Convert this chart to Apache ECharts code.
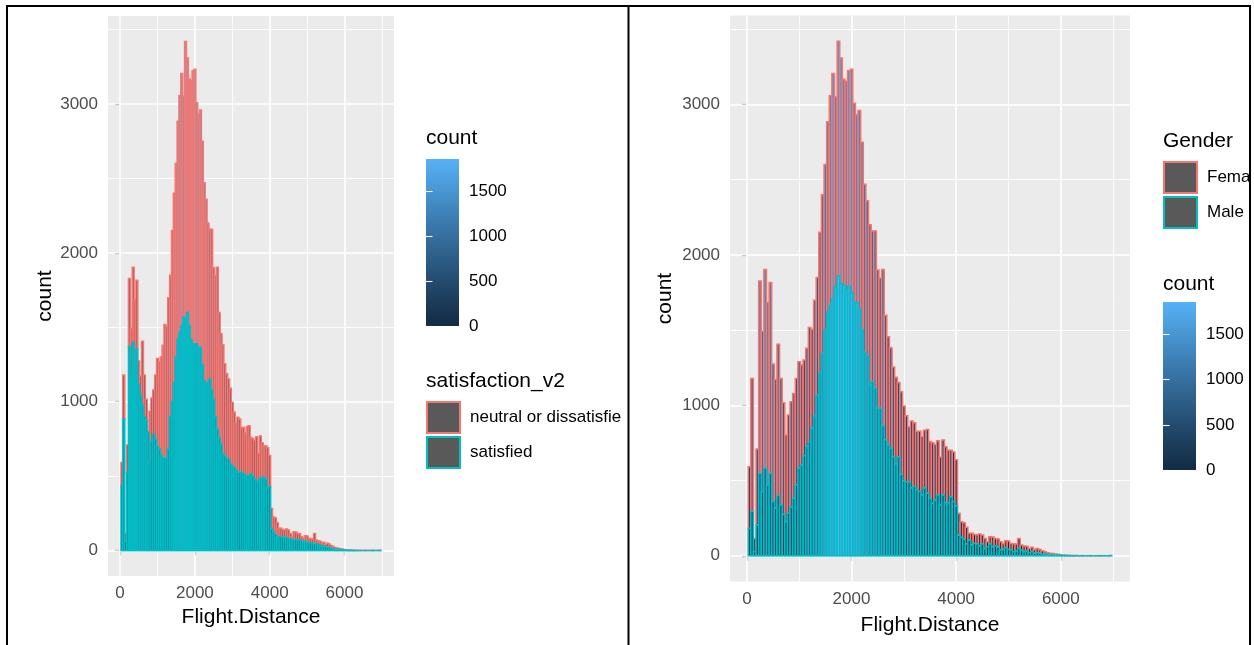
<!DOCTYPE html>
<html>
<head>
<meta charset="utf-8">
<script src="https://cdn.jsdelivr.net/npm/echarts@6/dist/echarts.min.js"></script>
<style>
  html, body { margin: 0; padding: 0; background: #ffffff; }
  #chart { width: 1254px; height: 645px; }
</style>
</head>
<body>
<div id="chart"></div>
<script>
// Flight.Distance histogram: bins 50 wide, centred on 50, 100, ..., 6950
const binStart = 25;
const binWidth = 50;

// all passengers per bin
const totalCounts = [
  591, 1179, 115, 709, 1827, 1493, 1903, 1684, 1816, 1274,
  1172, 1406, 1179, 1017, 802, 935, 1024, 1079, 1179, 1290,
  1268, 1301, 1379, 1518, 1505, 1699, 1850, 2150, 2400, 2600,
  2884, 3057, 3205, 3050, 3420, 3309, 3167, 3154, 3223, 3234,
  3008, 2932, 2960, 2749, 2470, 2360, 2200, 2159, 2159, 1900,
  1846, 1903, 1599, 1456, 1383, 1255, 1187, 1152, 1090, 995,
  930, 857, 896, 884, 827, 827, 793, 834, 839, 759,
  752, 740, 765, 656, 770, 724, 702, 702, 690, 639,
  282, 226, 220, 189, 149, 149, 142, 140, 145, 138,
  115, 93, 127, 125, 115, 112, 93, 82, 100, 98,
  82, 80, 78, 115, 71, 65, 63, 49, 56, 42,
  49, 42, 33, 27, 20, 16, 15, 11, 10, 6,
  4, 3, 2, 2, 1, 1, 0, 1, 0, 0,
  1, 0, 0, 0, 1, 0, 0, 0, 1
];

// satisfaction_v2 == "satisfied" per bin
const satisfiedCounts = [
  437, 884, 60, 526, 1370, 1150, 1399, 1250, 1354, 1119,
  1041, 980, 900, 877, 794, 605, 739, 783, 750, 700,
  683, 640, 627, 622, 622, 683, 900, 1000, 1130, 1300,
  1421, 1470, 1511, 1567, 1560, 1600, 1511, 1420, 1388, 1388,
  1388, 1366, 1366, 1250, 1142, 1119, 1130, 1153, 1080, 1018,
  900, 817, 760, 716, 650, 638, 620, 615, 582, 570,
  560, 540, 526, 526, 526, 520, 504, 504, 504, 515,
  500, 481, 470, 459, 480, 493, 493, 480, 425, 430,
  146, 124, 110, 90, 92, 94, 90, 88, 90, 80,
  78, 76, 74, 72, 70, 72, 66, 63, 62, 56,
  54, 50, 45, 47, 44, 40, 38, 30, 28, 27,
  22, 20, 14, 12, 10, 8, 7, 5, 4, 3,
  2, 1, 1, 1, 0, 1, 0, 1, 0, 0,
  0, 0, 0, 0, 1, 0, 0, 0, 1
];

// Gender == "Male" per bin
const maleCounts = [
  182, 294, 27, 204, 547, 426, 581, 470, 547, 360,
  316, 400, 338, 275, 226, 282, 325, 381, 470, 581,
  603, 664, 726, 758, 847, 931, 1068, 1216, 1345, 1500,
  1620, 1665, 1710, 1790, 1860, 1810, 1799, 1766, 1792, 1750,
  1689, 1681, 1640, 1502, 1353, 1331, 1136, 1159, 1114, 981,
  981, 862, 770, 736, 713, 656, 610, 656, 541, 496,
  491, 491, 450, 461, 439, 427, 404, 450, 415, 381,
  347, 370, 404, 335, 404, 353, 353, 393, 359, 330,
  137, 122, 108, 78, 104, 71, 82, 78, 65, 78,
  49, 60, 78, 60, 67, 56, 38, 42, 53, 42,
  38, 27, 31, 49, 38, 27, 31, 20, 27, 16,
  20, 16, 11, 11, 8, 8, 6, 5, 4, 3,
  2, 1, 1, 1, 0, 1, 0, 0, 0, 0,
  0, 0, 0, 0, 0, 0, 0, 0, 1
];

const satisfactionLevels = ['neutral or dissatisfied', 'satisfied'];
const genderLevels = ['Female', 'Male'];

const xTicks = [0, 2000, 4000, 6000];
const xMinor = [1000, 3000, 5000, 7000];
const yTicks = [0, 1000, 2000, 3000];
const yMinor = [500, 1500, 2500, 3500];
const colorbarTicks = [0, 500, 1000, 1500];

// ---- ggplot-like scales -------------------------------------------------
const groupColors = ['#F8766D', '#00BFC4'];
const keyFill = '#595959';
const panelGrey = '#EBEBEB';
const FONT = '"Liberation Sans", Arial, sans-serif';
const plainNumber = v => String(Math.round(v));

// continuous fill: #132B43 -> #56B1F7, interpolated in CIE Lab
function hexToRgb(h) {
  return [parseInt(h.slice(1, 3), 16), parseInt(h.slice(3, 5), 16), parseInt(h.slice(5, 7), 16)];
}
function toLinear(c) { c /= 255; return c <= 0.04045 ? c / 12.92 : Math.pow((c + 0.055) / 1.055, 2.4); }
function fromLinear(c) {
  c = c <= 0.0031308 ? 12.92 * c : 1.055 * Math.pow(c, 1 / 2.4) - 0.055;
  return Math.round(Math.max(0, Math.min(1, c)) * 255);
}
function rgbToLab(rgb) {
  const [r, g, b] = rgb.map(toLinear);
  const x = (0.4124 * r + 0.3576 * g + 0.1805 * b) / 0.95047;
  const y = 0.2126 * r + 0.7152 * g + 0.0722 * b;
  const z = (0.0193 * r + 0.1192 * g + 0.9505 * b) / 1.08883;
  const f = t => (t > 0.008856 ? Math.cbrt(t) : 7.787 * t + 16 / 116);
  const fx = f(x), fy = f(y), fz = f(z);
  return [116 * fy - 16, 500 * (fx - fy), 200 * (fy - fz)];
}
function labToRgb(lab) {
  const fy = (lab[0] + 16) / 116, fx = fy + lab[1] / 500, fz = fy - lab[2] / 200;
  const inv = t => (t * t * t > 0.008856 ? t * t * t : (t - 16 / 116) / 7.787);
  const x = inv(fx) * 0.95047, y = inv(fy), z = inv(fz) * 1.08883;
  const r = 3.2406 * x - 1.5372 * y - 0.4986 * z;
  const g = -0.9689 * x + 1.8758 * y + 0.0415 * z;
  const b = 0.0557 * x - 0.2040 * y + 1.0570 * z;
  return [fromLinear(r), fromLinear(g), fromLinear(b)];
}
const lowLab = rgbToLab(hexToRgb('#132B43'));
const highLab = rgbToLab(hexToRgb('#56B1F7'));
function fillColor(t) {
  t = Math.max(0, Math.min(1, t));
  const c = labToRgb(lowLab.map((v, i) => v + (highLab[i] - v) * t));
  return 'rgb(' + c.join(',') + ')';
}
function gradientStops() {
  const stops = [];
  for (let i = 0; i <= 24; i++) {
    const t = i / 24;
    stops.push({ offset: t, color: fillColor(1 - t) });
  }
  return stops;
}

// ---- stacked histogram segments ----------------------------------------
// each item: [binLeft, binRight, base, top, segmentCount]
function lowerSegments(lower) {
  return lower.map((c, k) => {
    const x0 = binStart + binWidth * k;
    return [x0, x0 + binWidth, 0, c, c];
  });
}
function upperSegments(lower) {
  return totalCounts.map((t, k) => {
    const x0 = binStart + binWidth * k;
    return [x0, x0 + binWidth, lower[k], t, t - lower[k]];
  });
}

const leftUpper = upperSegments(satisfiedCounts);
const leftLower = lowerSegments(satisfiedCounts);
const rightUpper = upperSegments(maleCounts);
const rightLower = lowerSegments(maleCounts);

const leftFillMax = Math.max(...leftUpper.map(d => d[4]), ...leftLower.map(d => d[4]));
const rightFillMax = Math.max(...rightUpper.map(d => d[4]), ...rightLower.map(d => d[4]));

// ggplot default 5% expansion on both axes
const xLo = binStart, xHi = binStart + binWidth * totalCounts.length;
const xMin = xLo - 0.05 * (xHi - xLo), xMax = xHi + 0.05 * (xHi - xLo);
const yPeak = Math.max(...totalCounts);
const yMin = -0.05 * yPeak, yMax = 1.05 * yPeak;

function histRenderer(fillMax, stroke) {
  return function (params, api) {
    const p0 = api.coord([api.value(0), api.value(3)]);
    const p1 = api.coord([api.value(1), api.value(2)]);
    return {
      type: 'rect',
      shape: { x: p0[0], y: p0[1], width: p1[0] - p0[0], height: p1[1] - p0[1] },
      style: { fill: fillColor(api.value(4) / fillMax), stroke: stroke, lineWidth: 1.5 }
    };
  };
}

function histSeries(name, data, gridIdx, fillMax, stroke) {
  return {
    type: 'custom',
    name: name,
    xAxisIndex: gridIdx,
    yAxisIndex: gridIdx,
    data: data,
    encode: { x: [0, 1], y: [2, 3] },
    renderItem: histRenderer(fillMax, stroke),
    silent: true,
    z: 3
  };
}

// panel grid (major + minor), kept underneath the bars
function gridLineSeries(gridIdx) {
  const major = { color: '#ffffff', width: 1.6, type: 'solid' };
  const minor = { color: '#ffffff', width: 0.9, type: 'solid' };
  const items = [];
  xMinor.forEach(v => items.push({ xAxis: v, lineStyle: minor }));
  yMinor.forEach(v => items.push({ yAxis: v, lineStyle: minor }));
  xTicks.forEach(v => items.push({ xAxis: v, lineStyle: major }));
  yTicks.forEach(v => items.push({ yAxis: v, lineStyle: major }));
  return {
    type: 'line',
    xAxisIndex: gridIdx,
    yAxisIndex: gridIdx,
    data: [],
    z: 1,
    silent: true,
    markLine: {
      z: 1,
      silent: true,
      symbol: ['none', 'none'],
      label: { show: false },
      emphasis: { disabled: true },
      animation: false,
      data: items
    }
  };
}

function colorbarSeries(gridIdx, fillMax) {
  return {
    type: 'custom',
    xAxisIndex: gridIdx,
    yAxisIndex: gridIdx,
    data: [[0, 1, 0, fillMax]],
    silent: true,
    z: 2,
    renderItem: function (params, api) {
      const p0 = api.coord([api.value(0), api.value(3)]);
      const p1 = api.coord([api.value(1), api.value(2)]);
      return {
        type: 'rect',
        shape: { x: p0[0], y: p0[1], width: p1[0] - p0[0], height: p1[1] - p0[1] },
        style: { fill: new echarts.graphic.LinearGradient(0, 0, 0, 1, gradientStops()) }
      };
    }
  };
}

function mainXAxis(gridIdx, nameGap) {
  return {
    gridIndex: gridIdx, type: 'value', min: xMin, max: xMax,
    axisLine: { show: false },
    axisTick: { show: true, customValues: xTicks, length: 5, lineStyle: { color: '#333333', width: 1.1 } },
    axisLabel: { customValues: xTicks, formatter: plainNumber, color: '#4D4D4D', fontSize: 17, fontFamily: FONT, margin: 9 },
    splitLine: { show: false },
    name: 'Flight.Distance', nameLocation: 'middle', nameGap: nameGap,
    nameTextStyle: { fontSize: 21, color: '#000000', fontFamily: FONT }
  };
}
function mainYAxis(gridIdx, nameGap) {
  return {
    gridIndex: gridIdx, type: 'value', min: yMin, max: yMax,
    axisLine: { show: false },
    axisTick: { show: true, customValues: yTicks, length: 5, lineStyle: { color: '#333333', width: 1.1 } },
    axisLabel: { customValues: yTicks, formatter: plainNumber, color: '#4D4D4D', fontSize: 17, fontFamily: FONT, margin: 10 },
    splitLine: { show: false },
    name: 'count', nameLocation: 'middle', nameGap: nameGap, nameRotate: 90,
    nameTextStyle: { fontSize: 21, color: '#000000', fontFamily: FONT }
  };
}
function colorbarX(gridIdx) {
  return { gridIndex: gridIdx, type: 'value', min: 0, max: 1, show: false };
}
function colorbarY(gridIdx, fillMax, side, withLabels) {
  return {
    gridIndex: gridIdx, type: 'value', min: 0, max: fillMax, position: side, z: 10,
    axisLine: { show: false },
    axisTick: { show: true, inside: true, customValues: colorbarTicks, length: 6.5,
                lineStyle: { color: '#ffffff', width: 1.1 } },
    axisLabel: withLabels
      ? { customValues: colorbarTicks, formatter: plainNumber, color: '#000000', fontSize: 17, fontFamily: FONT, margin: 10 }
      : { show: false },
    splitLine: { show: false }
  };
}

function legendTitle(text, left, top) {
  return {
    text: text, left: left, top: top, padding: 0,
    textStyle: { fontSize: 21, fontWeight: 'normal', color: '#000000', fontFamily: FONT }
  };
}
function groupLegend(names, left, top, textWidth) {
  return {
    orient: 'vertical', left: left, top: top, padding: 0,
    itemWidth: 33, itemHeight: 31, itemGap: 2, icon: 'rect',
    selectedMode: false,
    data: names.map((n, i) => ({
      name: n,
      itemStyle: { color: keyFill, borderColor: groupColors[i], borderWidth: 2 }
    })),
    textStyle: {
      fontSize: 17, color: '#000000', fontFamily: FONT, padding: [0, 0, 0, 5],
      width: textWidth, overflow: 'truncate', ellipsis: ''
    }
  };
}

const chart = echarts.init(document.getElementById('chart'), null, { renderer: 'canvas' });
chart.setOption({
  animation: false,
  backgroundColor: '#ffffff',
  textStyle: { fontFamily: FONT },
  grid: [
    { left: 108, top: 16, width: 286, height: 560, show: true, backgroundColor: panelGrey, borderWidth: 0 },
    { left: 730, top: 15.5, width: 400, height: 566, show: true, backgroundColor: panelGrey, borderWidth: 0 },
    { left: 426, top: 159, width: 33, height: 167 },
    { left: 1163, top: 302, width: 33, height: 168 }
  ],
  xAxis: [mainXAxis(0, 31), mainXAxis(1, 33), colorbarX(2), colorbarX(3)],
  yAxis: [
    mainYAxis(0, 52), mainYAxis(1, 54),
    colorbarY(2, leftFillMax, 'right', true), colorbarY(3, rightFillMax, 'right', true),
    colorbarY(2, leftFillMax, 'left', false), colorbarY(3, rightFillMax, 'left', false)
  ],
  title: [
    legendTitle('count', 426, 128),
    legendTitle('satisfaction_v2', 426, 371),
    legendTitle('Gender', 1163, 131),
    legendTitle('count', 1163, 274)
  ],
  legend: [
    groupLegend(satisfactionLevels, 426, 401, 155),
    groupLegend(genderLevels, 1163, 161, 45)
  ],
  series: [
    gridLineSeries(0),
    histSeries(satisfactionLevels[0], leftUpper, 0, leftFillMax, groupColors[0]),
    histSeries(satisfactionLevels[1], leftLower, 0, leftFillMax, groupColors[1]),
    gridLineSeries(1),
    histSeries(genderLevels[0], rightUpper, 1, rightFillMax, groupColors[0]),
    histSeries(genderLevels[1], rightLower, 1, rightFillMax, groupColors[1]),
    colorbarSeries(2, leftFillMax),
    colorbarSeries(3, rightFillMax)
  ],
  graphic: [
    { type: 'line', shape: { x1: 6, y1: 6, x2: 1251, y2: 6 }, style: { stroke: '#000', lineWidth: 2 }, z: 100 },
    { type: 'line', shape: { x1: 7, y1: 5, x2: 7, y2: 645 }, style: { stroke: '#000', lineWidth: 2 }, z: 100 },
    { type: 'line', shape: { x1: 628.5, y1: 5, x2: 628.5, y2: 645 }, style: { stroke: '#000', lineWidth: 2 }, z: 100 },
    { type: 'line', shape: { x1: 1250, y1: 5, x2: 1250, y2: 645 }, style: { stroke: '#000', lineWidth: 2 }, z: 100 }
  ]
});
</script>
</body>
</html>
